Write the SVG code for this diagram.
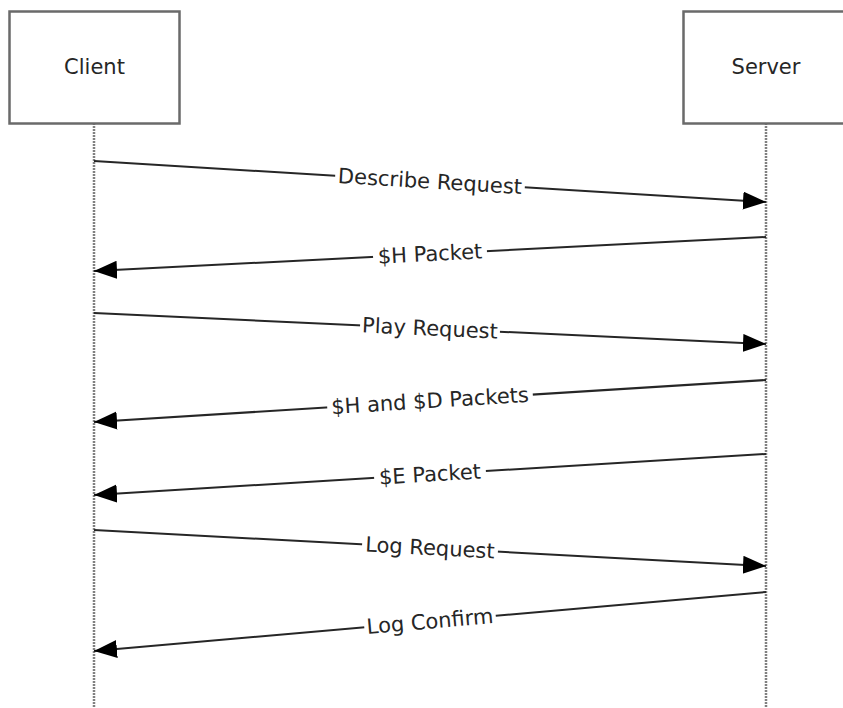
<svg xmlns="http://www.w3.org/2000/svg" width="843" height="708" viewBox="0 0 843 708">
<style>
.box{fill:#fff;stroke:#6a6a6a;stroke-width:2.5}
.life{stroke:#808080;stroke-width:2.5;stroke-dasharray:2 1;fill:none}
.msg{stroke:#262626;stroke-width:2;fill:none;marker-end:url(#ah)}
.lbl{font-family:"DejaVu Sans",Verdana,sans-serif;font-size:21px;fill:#262626;text-anchor:middle}
.bg{fill:#fff}
</style>
<defs>
<marker id="ah" markerUnits="userSpaceOnUse" markerWidth="24" markerHeight="20" refX="23" refY="9" orient="auto">
<path d="M0,0 L23,9 L0,18 z" fill="#000"/>
</marker>
</defs>
<rect width="843" height="708" fill="#fff"/>
<g id="lifelines">
<line class="life" x1="94" y1="123" x2="94" y2="708"/>
<line class="life" x1="766" y1="123" x2="766" y2="708"/>
</g>
<g id="client">
<rect class="box" x="9.5" y="11.5" width="170" height="112"/>
<text class="lbl" x="94.5" y="74">Client</text>
</g>
<g id="server">
<rect class="box" x="683.5" y="11.5" width="170" height="112"/>
<text class="lbl" x="766" y="74">Server</text>
</g>
<g id="connectors">
<g id="m1">
<line class="msg" x1="94" y1="161" x2="766" y2="202"/>
<g transform="translate(430,181.5) rotate(3.49)"><rect class="bg" x="-95" y="-12" width="190" height="24"/><text class="lbl" x="0" y="7">Describe Request</text></g>
</g>
<g id="m2">
<line class="msg" x1="766" y1="237" x2="94" y2="271"/>
<g transform="translate(430,254) rotate(-2.90)"><rect class="bg" x="-57" y="-12" width="114" height="24"/><text class="lbl" x="0" y="7">$H Packet</text></g>
</g>
<g id="m3">
<line class="msg" x1="94" y1="313" x2="766" y2="344"/>
<g transform="translate(430,328.5) rotate(2.64)"><rect class="bg" x="-70" y="-12" width="140" height="24"/><text class="lbl" x="0" y="7">Play Request</text></g>
</g>
<g id="m4">
<line class="msg" x1="766" y1="380" x2="94" y2="422"/>
<g transform="translate(430,401) rotate(-3.58)"><rect class="bg" x="-103" y="-12" width="206" height="24"/><text class="lbl" x="0" y="7">$H and $D Packets</text></g>
</g>
<g id="m5">
<line class="msg" x1="766" y1="454" x2="94" y2="495"/>
<g transform="translate(430,474.5) rotate(-3.49)"><rect class="bg" x="-56" y="-12" width="112" height="24"/><text class="lbl" x="0" y="7">$E Packet</text></g>
</g>
<g id="m6">
<line class="msg" x1="94" y1="530" x2="766" y2="566"/>
<g transform="translate(430,548) rotate(3.07)"><rect class="bg" x="-68" y="-12" width="136" height="24"/><text class="lbl" x="0" y="7">Log Request</text></g>
</g>
<g id="m7">
<line class="msg" x1="766" y1="592" x2="94" y2="651"/>
<g transform="translate(430,621.5) rotate(-5.02)"><rect class="bg" x="-66" y="-12" width="132" height="24"/><text class="lbl" x="0" y="7">Log Confirm</text></g>
</g>
</g>
</svg>
